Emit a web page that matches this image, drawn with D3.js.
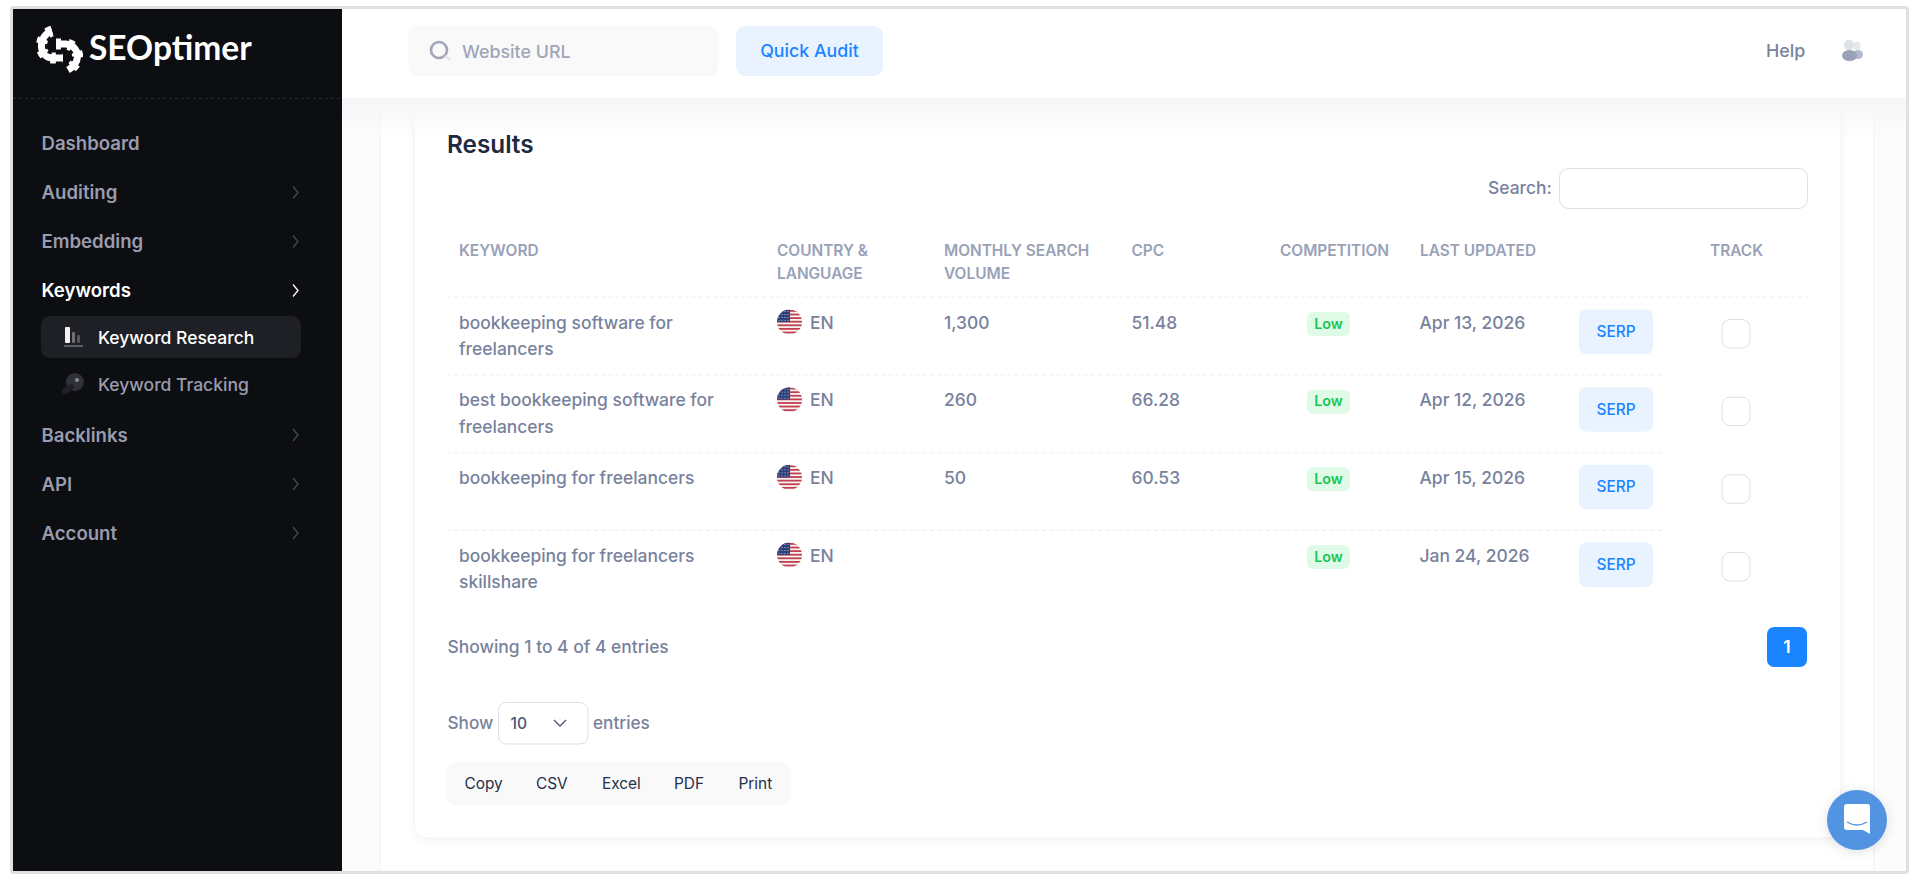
<!DOCTYPE html>
<html lang="en">
<head>
<meta charset="UTF-8" />
<title>Keyword Research</title>
<script src="https://d3js.org/d3.v7.min.js"></script>
<style>
    html, body { margin: 0; padding: 0; background: #fff; overflow: hidden; }
    text { font-family: Inter, "Noto Sans", sans-serif; }
</style>
</head>
<body>
<div id="chart"></div>
<script>
    // table content
    var keywords = [
        ["bookkeeping software for", "freelancers"],
        ["best bookkeeping software for", "freelancers"],
        ["bookkeeping for freelancers"],
        ["bookkeeping for freelancers", "skillshare"]
    ];
    var languages = ["EN", "EN", "EN", "EN"];
    var volumes = ["1,300", "260", "50", ""];
    var cpcValues = ["51.48", "66.28", "60.53", ""];
    var competition = ["Low", "Low", "Low", "Low"];
    var updated = ["Apr 13, 2026", "Apr 12, 2026", "Apr 15, 2026", "Jan 24, 2026"];
    var rowIds = ["r1", "r2", "r3", "r4"];

    var columns = ["keyword", "country", "volume", "cpc", "competition", "updated", "serp", "track"];
    var headers = [
        ["KEYWORD"],
        ["COUNTRY &", "LANGUAGE"],
        ["MONTHLY SEARCH", "VOLUME"],
        ["CPC"],
        ["COMPETITION"],
        ["LAST UPDATED"],
        [],
        ["TRACK"]
    ];

    // sidebar content
    var navItems = ["Dashboard", "Auditing", "Embedding", "Keywords", "Backlinks", "API", "Account"];
    var navArrows = [false, true, true, true, true, true, true];
    var subItems = ["Keyword Research", "Keyword Tracking"];
    var exportButtons = ["Copy", "CSV", "Excel", "PDF", "Print"];

    var w = 1920, h = 880;
    var bodySize = 17.45;  // table and label text

    var svg = d3.select("#chart").append("svg")
        .attr("width", w)
        .attr("height", h)
        .style("display", "block");

    var defs = svg.append("defs");

    // scales
    var x = d3.scaleOrdinal(columns, [459, 777, 944, 1131.5, 1328.5, 1420, 1616, 1736]);
    var rowY = d3.scalePoint(rowIds, [322, 555]);
    var navY = d3.scaleOrdinal(navItems, [143.5, 192.5, 241.5, 290.5, 435, 484, 533]);
    var subY = d3.scaleOrdinal(subItems, [337.5, 384.5]);
    var exportX = d3.scaleOrdinal(exportButtons, [464.5, 536, 602, 674, 738.5]);

    function addText(parent, str, px, py, size, weight, color, anchor) {
        return parent.append("text")
            .attr("x", px)
            .attr("y", py)
            .attr("text-anchor", anchor || "start")
            .style("font-size", size + "px")
            .style("font-weight", weight)
            .attr("fill", color)
            .text(str);
    }

    function addBox(parent, x0, y0, x1, y1, r, fill, stroke) {
        return parent.append("rect")
            .attr("x", x0).attr("y", y0)
            .attr("width", x1 - x0).attr("height", y1 - y0)
            .attr("rx", r)
            .attr("fill", fill)
            .attr("stroke", stroke || "none");
    }

    // page background
    var grad = defs.append("linearGradient").attr("id", "headShade").attr("x1", 0).attr("x2", 0).attr("y1", 0).attr("y2", 1);
    grad.append("stop").attr("offset", 0).attr("stop-color", "#f6f6f8");
    grad.append("stop").attr("offset", 1).attr("stop-color", "#f6f6f8").attr("stop-opacity", 0);

    var cardShadow = defs.append("filter").attr("id", "cardShadow")
        .attr("x", "-5%").attr("y", "-5%").attr("width", "110%").attr("height", "110%");
    cardShadow.append("feDropShadow").attr("dx", 0).attr("dy", 3).attr("stdDeviation", 5)
        .attr("flood-color", "#000").attr("flood-opacity", 0.04);

    svg.append("rect").attr("x", 342).attr("y", 98).attr("width", 1564).attr("height", 773).attr("fill", "#fcfcfd");
    svg.append("rect").attr("x", 380).attr("y", 60).attr("width", 1494).attr("height", 811)
        .attr("fill", "#fff").attr("stroke", "#f1f1f3");
    addBox(svg, 414, 60, 1841, 838, 12, "#fff", "#f1f1f3").attr("filter", "url(#cardShadow)");
    svg.append("rect").attr("x", 342).attr("y", 98).attr("width", 1564).attr("height", 40).attr("fill", "url(#headShade)");

    // header bar
    svg.append("rect").attr("x", 342).attr("y", 9).attr("width", 1564).attr("height", 89).attr("fill", "#fff");
    addBox(svg, 408.5, 26, 718, 76, 9, "#f9f9f9");
    svg.append("circle").attr("cx", 439).attr("cy", 50).attr("r", 8)
        .attr("fill", "none").attr("stroke", "#a1a5b7").attr("stroke-width", 2.6);
    svg.append("line").attr("x1", 445).attr("y1", 56).attr("x2", 450).attr("y2", 60)
        .attr("stroke", "#e3e4ea").attr("stroke-width", 2.4);
    addText(svg, "Website URL", 462, 58, 17.85, 500, "#a1a5b7");
    addBox(svg, 736, 26, 883, 76, 9, "#e9f3ff");
    addText(svg, "Quick Audit", 809.5, 57, 17.8, 500, "#1b84ff", "middle");
    addText(svg, "Help", 1766, 57, 17.85, 500, "#78829d");

    var userIcon = svg.append("g");
    userIcon.append("ellipse").attr("cx", 1857).attr("cy", 46).attr("rx", 3.5).attr("ry", 4.5).attr("fill", "#e6e7ed");
    userIcon.append("ellipse").attr("cx", 1849).attr("cy", 45).attr("rx", 5).attr("ry", 5.5).attr("fill", "#dfe1e8");
    userIcon.append("ellipse").attr("cx", 1858).attr("cy", 54.5).attr("rx", 5).attr("ry", 4.5).attr("fill", "#b4bacb");
    userIcon.append("ellipse").attr("cx", 1849.5).attr("cy", 55.5).attr("rx", 7.5).attr("ry", 5.5).attr("fill", "#99a1b7");

    // sidebar
    svg.append("rect").attr("x", 13).attr("y", 9).attr("width", 329).attr("height", 862).attr("fill", "#0d0e12");
    svg.append("line").attr("x1", 13).attr("x2", 342).attr("y1", 98.5).attr("y2", 98.5)
        .attr("stroke", "#26272f").attr("stroke-dasharray", "3 3");

    // logo: a gear split in two hooks, thin body plus a dashed thick stroke for the teeth
    var hooks = [
        "M52,31 C45,33 41,40 41.5,47 C42,55 48,58 53,58 L63,58",
        "M56,44 L66,44 C73,45 78,50 77.5,57 C77,63 73,67 68,70"
    ];
    var logo = svg.append("g").attr("fill", "none").attr("stroke", "#fff");
    logo.selectAll("path.body").data(hooks).enter().append("path")
        .attr("class", "body")
        .attr("stroke-width", 7)
        .attr("d", function(d) { return d; });
    logo.selectAll("path.teeth").data(hooks).enter().append("path")
        .attr("class", "teeth")
        .attr("stroke-width", 11)
        .attr("stroke-dasharray", "5 7")
        .attr("d", function(d) { return d; });
    addText(svg, "SEOptimer", 89, 60, 33.5, 700, "#fff").style("font-family", "Lato");

    // main nav
    var nav = svg.selectAll("g.nav").data(navItems).enter().append("g").attr("class", "nav");
    nav.append("text")
        .attr("x", 41.5)
        .attr("y", function(d) { return navY(d) + 6.5; })
        .style("font-size", "18.6px")
        .style("font-weight", 600)
        .attr("fill", function(d) { return d === "Keywords" ? "#ffffff" : "#9a9cae"; })
        .text(function(d) { return d; });
    nav.filter(function(d, i) { return navArrows[i]; }).append("path")
        .attr("d", function(d) {
            var y = navY(d);
            return "M293," + (y - 6) + " L298," + y + " L293," + (y + 6);
        })
        .attr("fill", "none")
        .attr("stroke", function(d) { return d === "Keywords" ? "#ffffff" : "#464852"; })
        .attr("stroke-width", 1.3);

    // sub nav
    addBox(svg, 41, 316, 301, 358, 9, "#1f2025");
    svg.selectAll("text.sub").data(subItems).enter().append("text")
        .attr("class", "sub")
        .attr("x", 98)
        .attr("y", function(d) { return subY(d) + 6; })
        .style("font-size", "17.5px")
        .style("font-weight", 500)
        .attr("fill", function(d, i) { return i === 0 ? "#ffffff" : "#9a9cae"; })
        .text(function(d) { return d; });

    var barIcon = svg.append("g");
    addBox(barIcon, 65, 327, 70, 343, 1, "#f2f2f2");
    addBox(barIcon, 72, 332, 75, 343, 1, "#6f7078");
    addBox(barIcon, 77, 335, 80, 343, 1, "#55565e");
    addBox(barIcon, 64, 345, 83, 347, 0, "#5a5b63");

    var keyIcon = svg.append("g");
    keyIcon.append("circle").attr("cx", 75).attr("cy", 382).attr("r", 9).attr("fill", "#2f3038");
    keyIcon.append("line").attr("x1", 71).attr("y1", 387).attr("x2", 65).attr("y2", 391)
        .attr("stroke", "#1f2026").attr("stroke-width", 6).attr("stroke-linecap", "round");
    keyIcon.append("circle").attr("cx", 77).attr("cy", 380).attr("r", 2).attr("fill", "#8a8b94");

    // results heading + search
    addText(svg, "Results", 447, 153, 24.3, 600, "#1e2a3f");
    addText(svg, "Search:", 1488, 194, bodySize, 500, "#78829d");
    addBox(svg, 1559.5, 168.5, 1807.5, 208.5, 9, "#fff", "#dbdfe9");

    // table header
    var head = svg.selectAll("g.head").data(columns).enter().append("g").attr("class", "head");
    head.each(function(col, i) {
        var g = d3.select(this);
        var hx = col === "competition" ? 1280 : col === "track" ? 1710 : x(col);
        g.selectAll("text").data(headers[i]).enter().append("text")
            .attr("x", hx)
            .attr("y", function(d, j) { return 255.5 + j * 23; })
            .style("font-size", "15.4px")
            .style("font-weight", 600)
            .attr("fill", "#99a1b7")
            .text(function(d) { return d; });
    });

    // row separators
    var separatorY = [296.5, 374.5, 452.5, 530];
    svg.selectAll("line.sep").data(separatorY).enter().append("line")
        .attr("class", "sep")
        .attr("x1", 447)
        .attr("x2", function(d, i) { return i === 0 ? 1808 : 1665; })
        .attr("y1", function(d) { return d + 0.5; })
        .attr("y2", function(d) { return d + 0.5; })
        .attr("stroke", "#eeeef1")
        .attr("stroke-dasharray", "4 3");

    // flag clip
    defs.append("clipPath").attr("id", "flagClip").append("circle").attr("r", 12.5);
    var stars = defs.append("pattern").attr("id", "stars").attr("width", 3).attr("height", 3).attr("patternUnits", "userSpaceOnUse");
    stars.append("rect").attr("width", 3).attr("height", 3).attr("fill", "#2f3f78");
    stars.append("circle").attr("cx", 1.5).attr("cy", 1.5).attr("r", 0.6).attr("fill", "#c4cbe2");

    // rows
    var rows = svg.selectAll("g.row").data(rowIds).enter().append("g").attr("class", "row");
    rows.each(function(id, i) {
        var g = d3.select(this);
        var y = rowY(id);

        g.selectAll("text.kw").data(keywords[i]).enter().append("text")
            .attr("class", "kw")
            .attr("x", x("keyword"))
            .attr("y", function(d, j) { return y + 6.5 + j * 26.5; })
            .style("font-size", bodySize + "px")
            .style("font-weight", 500)
            .attr("fill", "#78829d")
            .text(function(d) { return d; });

        // flag
        var flag = g.append("g").attr("transform", "translate(" + (x("country") + 12.5) + "," + y + ")");
        var inner = flag.append("g").attr("clip-path", "url(#flagClip)");
        inner.append("rect").attr("x", -12.5).attr("y", -12.5).attr("width", 25).attr("height", 25).attr("fill", "#f7f3f3");
        inner.selectAll("rect.stripe").data(d3.range(7)).enter().append("rect")
            .attr("class", "stripe")
            .attr("x", -12.5)
            .attr("y", function(d) { return -12 + d * 3.6; })
            .attr("width", 25)
            .attr("height", 1.8)
            .attr("fill", "#c0404f");
        inner.append("rect").attr("x", -12.5).attr("y", -12.5).attr("width", 13).attr("height", 12.5).attr("fill", "url(#stars)");

        addText(g, languages[i], 810, y + 6.5, bodySize, 500, "#78829d");
        addText(g, volumes[i], x("volume"), y + 6.5, bodySize, 500, "#78829d");
        addText(g, cpcValues[i], x("cpc"), y + 6.5, bodySize, 500, "#78829d");

        // competition badge
        addBox(g, x("competition") - 21.5, y - 10, x("competition") + 21.5, y + 14, 6, "#dffbe8");
        addText(g, competition[i], x("competition"), y + 6.5, 14.3, 600, "#17c653", "middle");

        addText(g, updated[i], x("updated") - 0.5, y + 6.5, bodySize, 500, "#78829d");

        // serp button
        addBox(g, x("serp") - 37, y - 12.5, x("serp") + 37, y + 32, 7, "#e9f3ff");
        addText(g, "SERP", x("serp"), y + 15, 15.4, 500, "#1b84ff", "middle");

        // track checkbox
        addBox(g, x("track") - 14, y - 2.5, x("track") + 14, y + 26, 8, "#fff", "#dbdfe9");
    });

    // footer of the table
    addText(svg, "Showing 1 to 4 of 4 entries", 447.5, 653, bodySize, 500, "#78829d");
    addBox(svg, 1767, 627, 1807, 667, 7, "#1b84ff");
    addText(svg, "1", 1787, 653, 17.5, 600, "#fff", "middle");

    addText(svg, "Show", 447.5, 729, 17.2, 500, "#78829d");
    addBox(svg, 498.5, 702.5, 588, 744, 8, "#fff", "#dbdfe9");
    addText(svg, "10", 510.5, 729, 15.6, 500, "#4b5675");
    svg.append("path").attr("d", "M554,720 L560,726 L566,720").attr("fill", "none").attr("stroke", "#4b5675").attr("stroke-width", 1.3);
    addText(svg, "entries", 593, 729, 17.2, 500, "#78829d");

    addBox(svg, 447, 762, 790, 805, 8, "#f9f9f9");
    svg.selectAll("text.export").data(exportButtons).enter().append("text")
        .attr("class", "export")
        .attr("x", function(d) { return exportX(d); })
        .attr("y", 789)
        .style("font-size", "15.4px")
        .style("font-weight", 400)
        .attr("fill", "#252f4a")
        .text(function(d) { return d; });

    // chat bubble
    var chatShadow = defs.append("filter").attr("id", "chatShadow")
        .attr("x", "-30%").attr("y", "-30%").attr("width", "160%").attr("height", "160%");
    chatShadow.append("feDropShadow").attr("dx", 0).attr("dy", 2).attr("stdDeviation", 6)
        .attr("flood-color", "#000").attr("flood-opacity", 0.12);
    svg.append("circle").attr("cx", 1857).attr("cy", 820).attr("r", 30).attr("fill", "#5294e2").attr("filter", "url(#chatShadow)");
    svg.append("path")
        .attr("d", "M1844,807 Q1844,804 1847,804 L1867,804 Q1870,804 1870,807 L1870,834 L1863,830 L1847,830 Q1844,830 1844,827 Z")
        .attr("fill", "#fff");
    svg.append("path").attr("d", "M1847,822 Q1857,828 1867,822").attr("fill", "none").attr("stroke", "#5294e2").attr("stroke-width", 1.4);

    // browser frame
    svg.append("rect").attr("x", 11.5).attr("y", 7.5).attr("width", 1896).attr("height", 865).attr("rx", 2)
        .attr("fill", "none").attr("stroke", "#e0e0e0").attr("stroke-width", 3);
</script>
</body>
</html>
